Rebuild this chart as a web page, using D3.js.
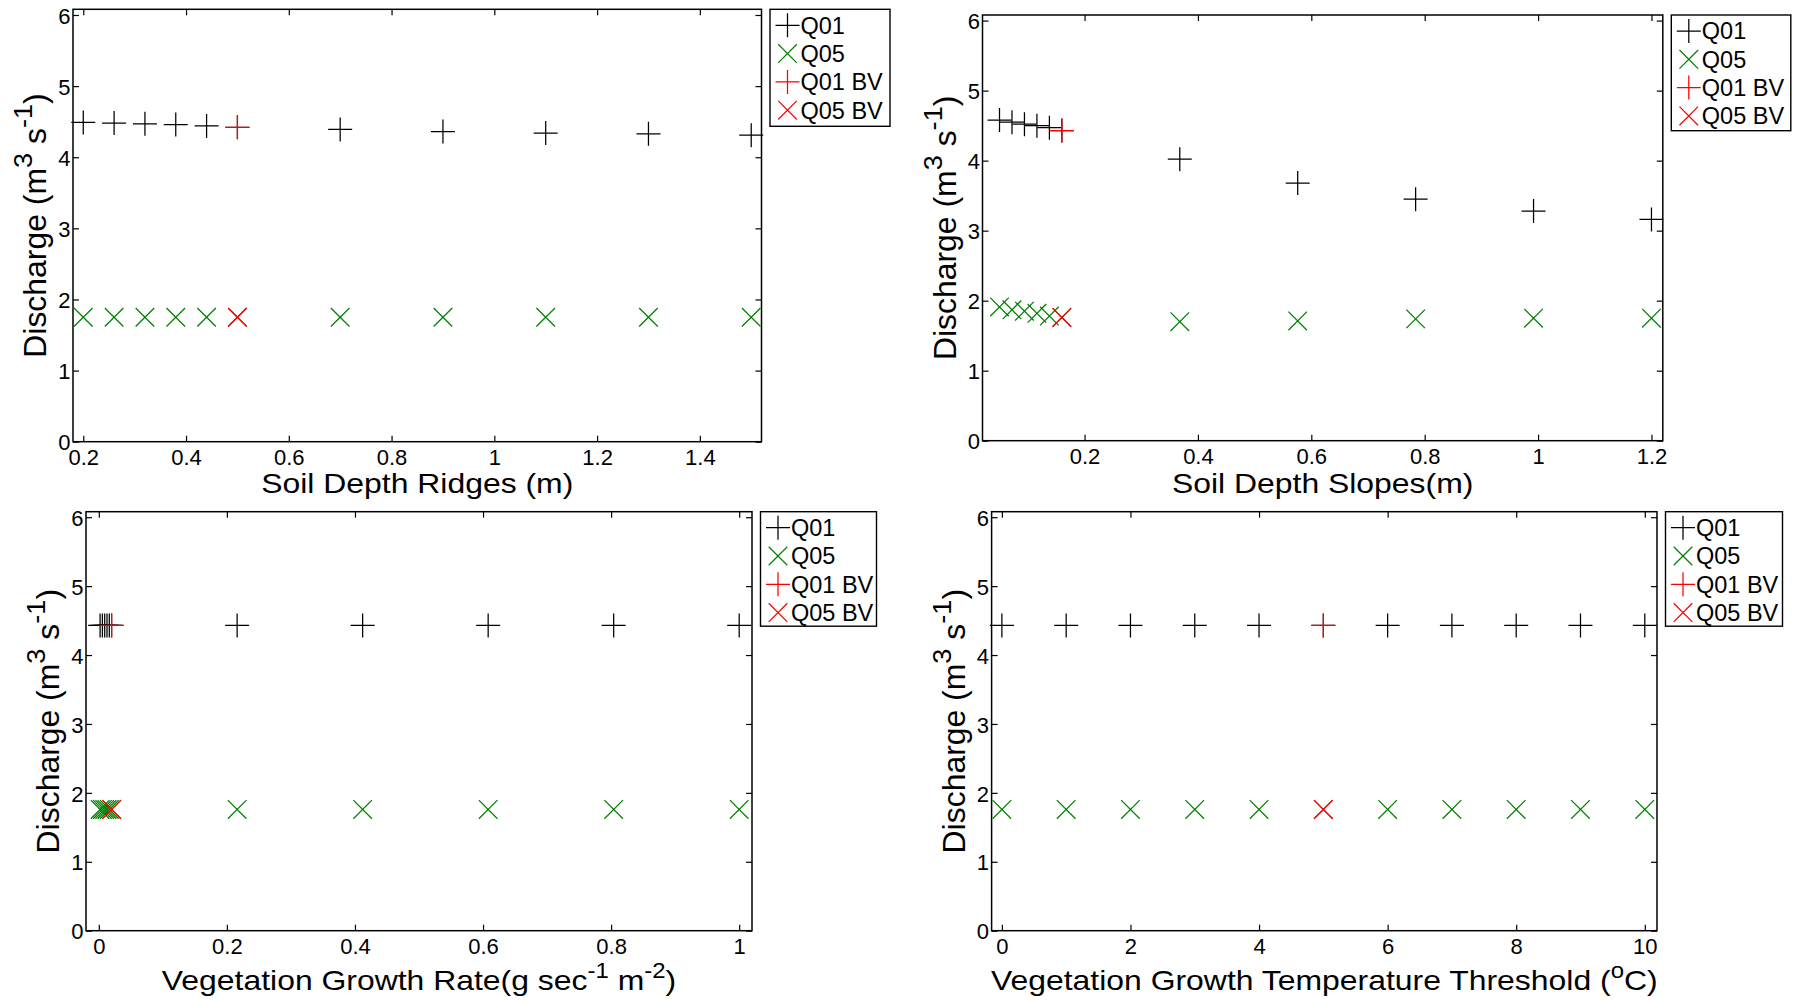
<!DOCTYPE html>
<html><head><meta charset="utf-8">
<script src="https://cdn.jsdelivr.net/npm/d3@7"></script>
<style>
body{margin:0;background:#fff}
svg{display:block}
text{font-family:"Liberation Sans",Arial,Helvetica,sans-serif;fill:#000;white-space:pre}
</style>
</head><body>
<svg id="chart" width="1798" height="1001"></svg>
<script>
// ---------------- data ----------------
const legendNames = ["Q01", "Q05", "Q01 BV", "Q05 BV"];
const yTicks = [0, 1, 2, 3, 4, 5, 6];

// Panel 1: Soil Depth Ridges
const ridgesX   = [0.2, 0.26, 0.32, 0.38, 0.44, 0.5, 0.7, 0.9, 1.1, 1.3, 1.5];
const ridgesQ01 = [4.49, 4.48, 4.47, 4.46, 4.44, 4.42, 4.39, 4.36, 4.34, 4.33, 4.31];
const ridgesQ05 = [1.75, 1.75, 1.75, 1.75, 1.75, 1.75, 1.75, 1.75, 1.75, 1.75, 1.75];
const ridgesBV  = 5;
const ridgesTicks = [0.2, 0.4, 0.6, 0.8, 1, 1.2, 1.4];

// Panel 2: Soil Depth Slopes
const slopesX   = [0.05, 0.072, 0.094, 0.116, 0.138, 0.16, 0.368, 0.576, 0.784, 0.992, 1.2];
const slopesQ01 = [4.58, 4.55, 4.52, 4.50, 4.47, 4.43, 4.02, 3.68, 3.45, 3.28, 3.16];
const slopesQ05 = [1.91, 1.87, 1.85, 1.82, 1.78, 1.76, 1.70, 1.71, 1.74, 1.75, 1.75];
const slopesBV  = 5;
const slopesTicks = [0.2, 0.4, 0.6, 0.8, 1, 1.2];

// Panel 3: Vegetation Growth Rate
const rateX   = [0.002, 0.0056, 0.0092, 0.0128, 0.0164, 0.02, 0.216, 0.412, 0.608, 0.804, 1.0];
const rateQ01 = [4.43, 4.43, 4.43, 4.43, 4.43, 4.43, 4.43, 4.43, 4.43, 4.43, 4.43];
const rateQ05 = [1.76, 1.76, 1.76, 1.76, 1.76, 1.76, 1.76, 1.76, 1.76, 1.76, 1.76];
const rateBV  = 5;
const rateTicks = [0, 0.2, 0.4, 0.6, 0.8, 1];

// Panel 4: Vegetation Growth Temperature Threshold
const tempX   = [0, 1, 2, 3, 4, 5, 6, 7, 8, 9, 10];
const tempQ01 = [4.43, 4.43, 4.43, 4.43, 4.43, 4.43, 4.43, 4.43, 4.43, 4.43, 4.43];
const tempQ05 = [1.76, 1.76, 1.76, 1.76, 1.76, 1.76, 1.76, 1.76, 1.76, 1.76, 1.76];
const tempBV  = 5;
const tempTicks = [0, 2, 4, 6, 8, 10];

const yTitle = [{t:"Discharge (m"}, {t:"3", sup:true}, {t:" s"}, {t:"-1", sup:true}, {t:")"}];

// ---------------- layout ----------------
const panels = [
  {x:ridgesX, q01:ridgesQ01, q05:ridgesQ05, bv:ridgesBV, ticks:ridgesTicks, xDom:[0.18, 1.52],
   box:{l:73, t:9.3, r:761.5, b:441.7}, titleDy:51.5, legW:120, legH:117,
   xTitle:[{t:"Soil Depth Ridges (m)"}]},
  {x:slopesX, q01:slopesQ01, q05:slopesQ05, bv:slopesBV, ticks:slopesTicks, xDom:[0.02, 1.22],
   box:{l:982.5, t:15, r:1662.8, b:440.7}, titleDy:52.5, legW:119.5, legH:115.7,
   xTitle:[{t:"Soil Depth Slopes(m)"}]},
  {x:rateX, q01:rateQ01, q05:rateQ05, bv:rateBV, ticks:rateTicks, xDom:[-0.02, 1.02],
   box:{l:86, t:511.7, r:752, b:930.7}, titleDy:59.5, legW:116, legH:114.5,
   xTitle:[{t:"Vegetation Growth Rate(g sec"}, {t:"-1", sup:true}, {t:" m"}, {t:"-2", sup:true}, {t:")"}]},
  {x:tempX, q01:tempQ01, q05:tempQ05, bv:tempBV, ticks:tempTicks, xDom:[-0.16, 10.19],
   box:{l:991.6, t:511.7, r:1657, b:930.7}, titleDy:59.5, legW:117, legH:114.5,
   xTitle:[{t:"Vegetation Growth Temperature Threshold ("}, {t:"o", sup:true}, {t:"C)"}]}
];

const BLACK = "#000000", GREEN = "#008000", RED = "#ff0000";
const PLUS = 12, CROSS = 9.3, MW = 1.25;

const svg = d3.select("#chart");
const fmt = d3.format("~g");

function plusPath(x, y, s){ return `M${x-s},${y}H${x+s}M${x},${y-s}V${y+s}`; }
function crossPath(x, y, s){ return `M${x-s},${y-s}L${x+s},${y+s}M${x-s},${y+s}L${x+s},${y-s}`; }

function addRich(textSel, segs, fs, supScale, raise){
  let raised = false;
  segs.forEach(s => {
    const ts = textSel.append("tspan").text(s.t);
    if (s.sup) {
      ts.attr("font-size", fs*supScale).attr("dy", -fs*raise);
      raised = true;
    } else if (raised) {
      ts.attr("dy", fs*raise);
      raised = false;
    }
  });
}

panels.forEach(p => {
  const {l, t, r, b} = p.box;
  const xs = d3.scaleLinear().domain(p.xDom).range([l, r]);
  const ys = d3.scaleLinear().domain([0, 6.08]).range([b, t]);
  const g = svg.append("g");

  // axes (ticks inward), labels on bottom/left
  const tk = 6;
  const ax = g.append("g").attr("transform", `translate(0,${b})`)
    .call(d3.axisBottom(xs).tickValues(p.ticks).tickFormat(fmt).tickSize(-tk).tickPadding(0));
  ax.selectAll("text").attr("font-size", 22).attr("dy", null).attr("y", 23);
  const ay = g.append("g").attr("transform", `translate(${l},0)`)
    .call(d3.axisLeft(ys).tickValues(yTicks).tickFormat(fmt).tickSize(-tk).tickPadding(0));
  ay.selectAll("text").attr("font-size", 22).attr("dy", null).attr("x", -2.5).attr("y", 8.2);
  const at = g.append("g").attr("transform", `translate(0,${t})`)
    .call(d3.axisTop(xs).tickValues(p.ticks).tickFormat("").tickSize(-tk));
  const ar = g.append("g").attr("transform", `translate(${r},0)`)
    .call(d3.axisRight(ys).tickValues(yTicks).tickFormat("").tickSize(-tk));
  [ax, ay, at, ar].forEach(a => {
    a.select(".domain").remove();
    a.selectAll(".tick line").attr("stroke", "#000").attr("stroke-width", 1.2);
  });
  g.append("rect").attr("x", l).attr("y", t).attr("width", r - l).attr("height", b - t)
    .attr("fill", "none").attr("stroke", "#000").attr("stroke-width", 1.5);

  // data markers
  const idx = d3.range(p.x.length);
  const mk = g.append("g").attr("fill", "none").attr("stroke-width", MW);
  mk.selectAll("path.q01").data(idx).join("path").attr("class", "q01")
    .attr("stroke", BLACK).attr("d", i => plusPath(xs(p.x[i]), ys(p.q01[i]), PLUS));
  mk.selectAll("path.q05").data(idx).join("path").attr("class", "q05")
    .attr("stroke", GREEN).attr("d", i => crossPath(xs(p.x[i]), ys(p.q05[i]), CROSS));
  mk.append("path").attr("stroke", RED).attr("d", plusPath(xs(p.x[p.bv]), ys(p.q01[p.bv]), PLUS));
  mk.append("path").attr("stroke", RED).attr("d", crossPath(xs(p.x[p.bv]), ys(p.q05[p.bv]), CROSS));

  // x title
  const cx = (l + r) / 2;
  const xt = g.append("g").attr("transform", `translate(${cx},${b + p.titleDy}) scale(1.12,1)`)
    .append("text").attr("text-anchor", "middle").attr("font-size", 28.5);
  addRich(xt, p.xTitle, 28.5, 0.75, 0.42);

  // y title
  const cy = (t + b) / 2;
  const yt = g.append("g").attr("transform", `translate(${l - 27},${cy}) rotate(-90) scale(1.03,1)`)
    .append("text").attr("text-anchor", "middle").attr("font-size", 31);
  addRich(yt, yTitle, 31, 0.85, 0.45);

  // legend
  const lx = r + 8.5, ly = t;
  const lg = g.append("g");
  lg.append("rect").attr("x", lx).attr("y", ly).attr("width", p.legW).attr("height", p.legH)
    .attr("fill", "#fff").attr("stroke", "#000").attr("stroke-width", 1.4);
  const legColors = [BLACK, GREEN, RED, RED];
  const legShapes = [plusPath, crossPath, plusPath, crossPath];
  const legSizes = [PLUS, CROSS, PLUS, CROSS];
  legendNames.forEach((name, i) => {
    const ey = ly + 16 + i * 28.3;
    lg.append("path").attr("fill", "none").attr("stroke", legColors[i]).attr("stroke-width", MW)
      .attr("d", legShapes[i](lx + 17.5, ey, legSizes[i]));
    lg.append("text").attr("x", lx + 30.5).attr("y", ey + 8.3).attr("font-size", 23.5).text(name);
  });
});
</script>
</body></html>
